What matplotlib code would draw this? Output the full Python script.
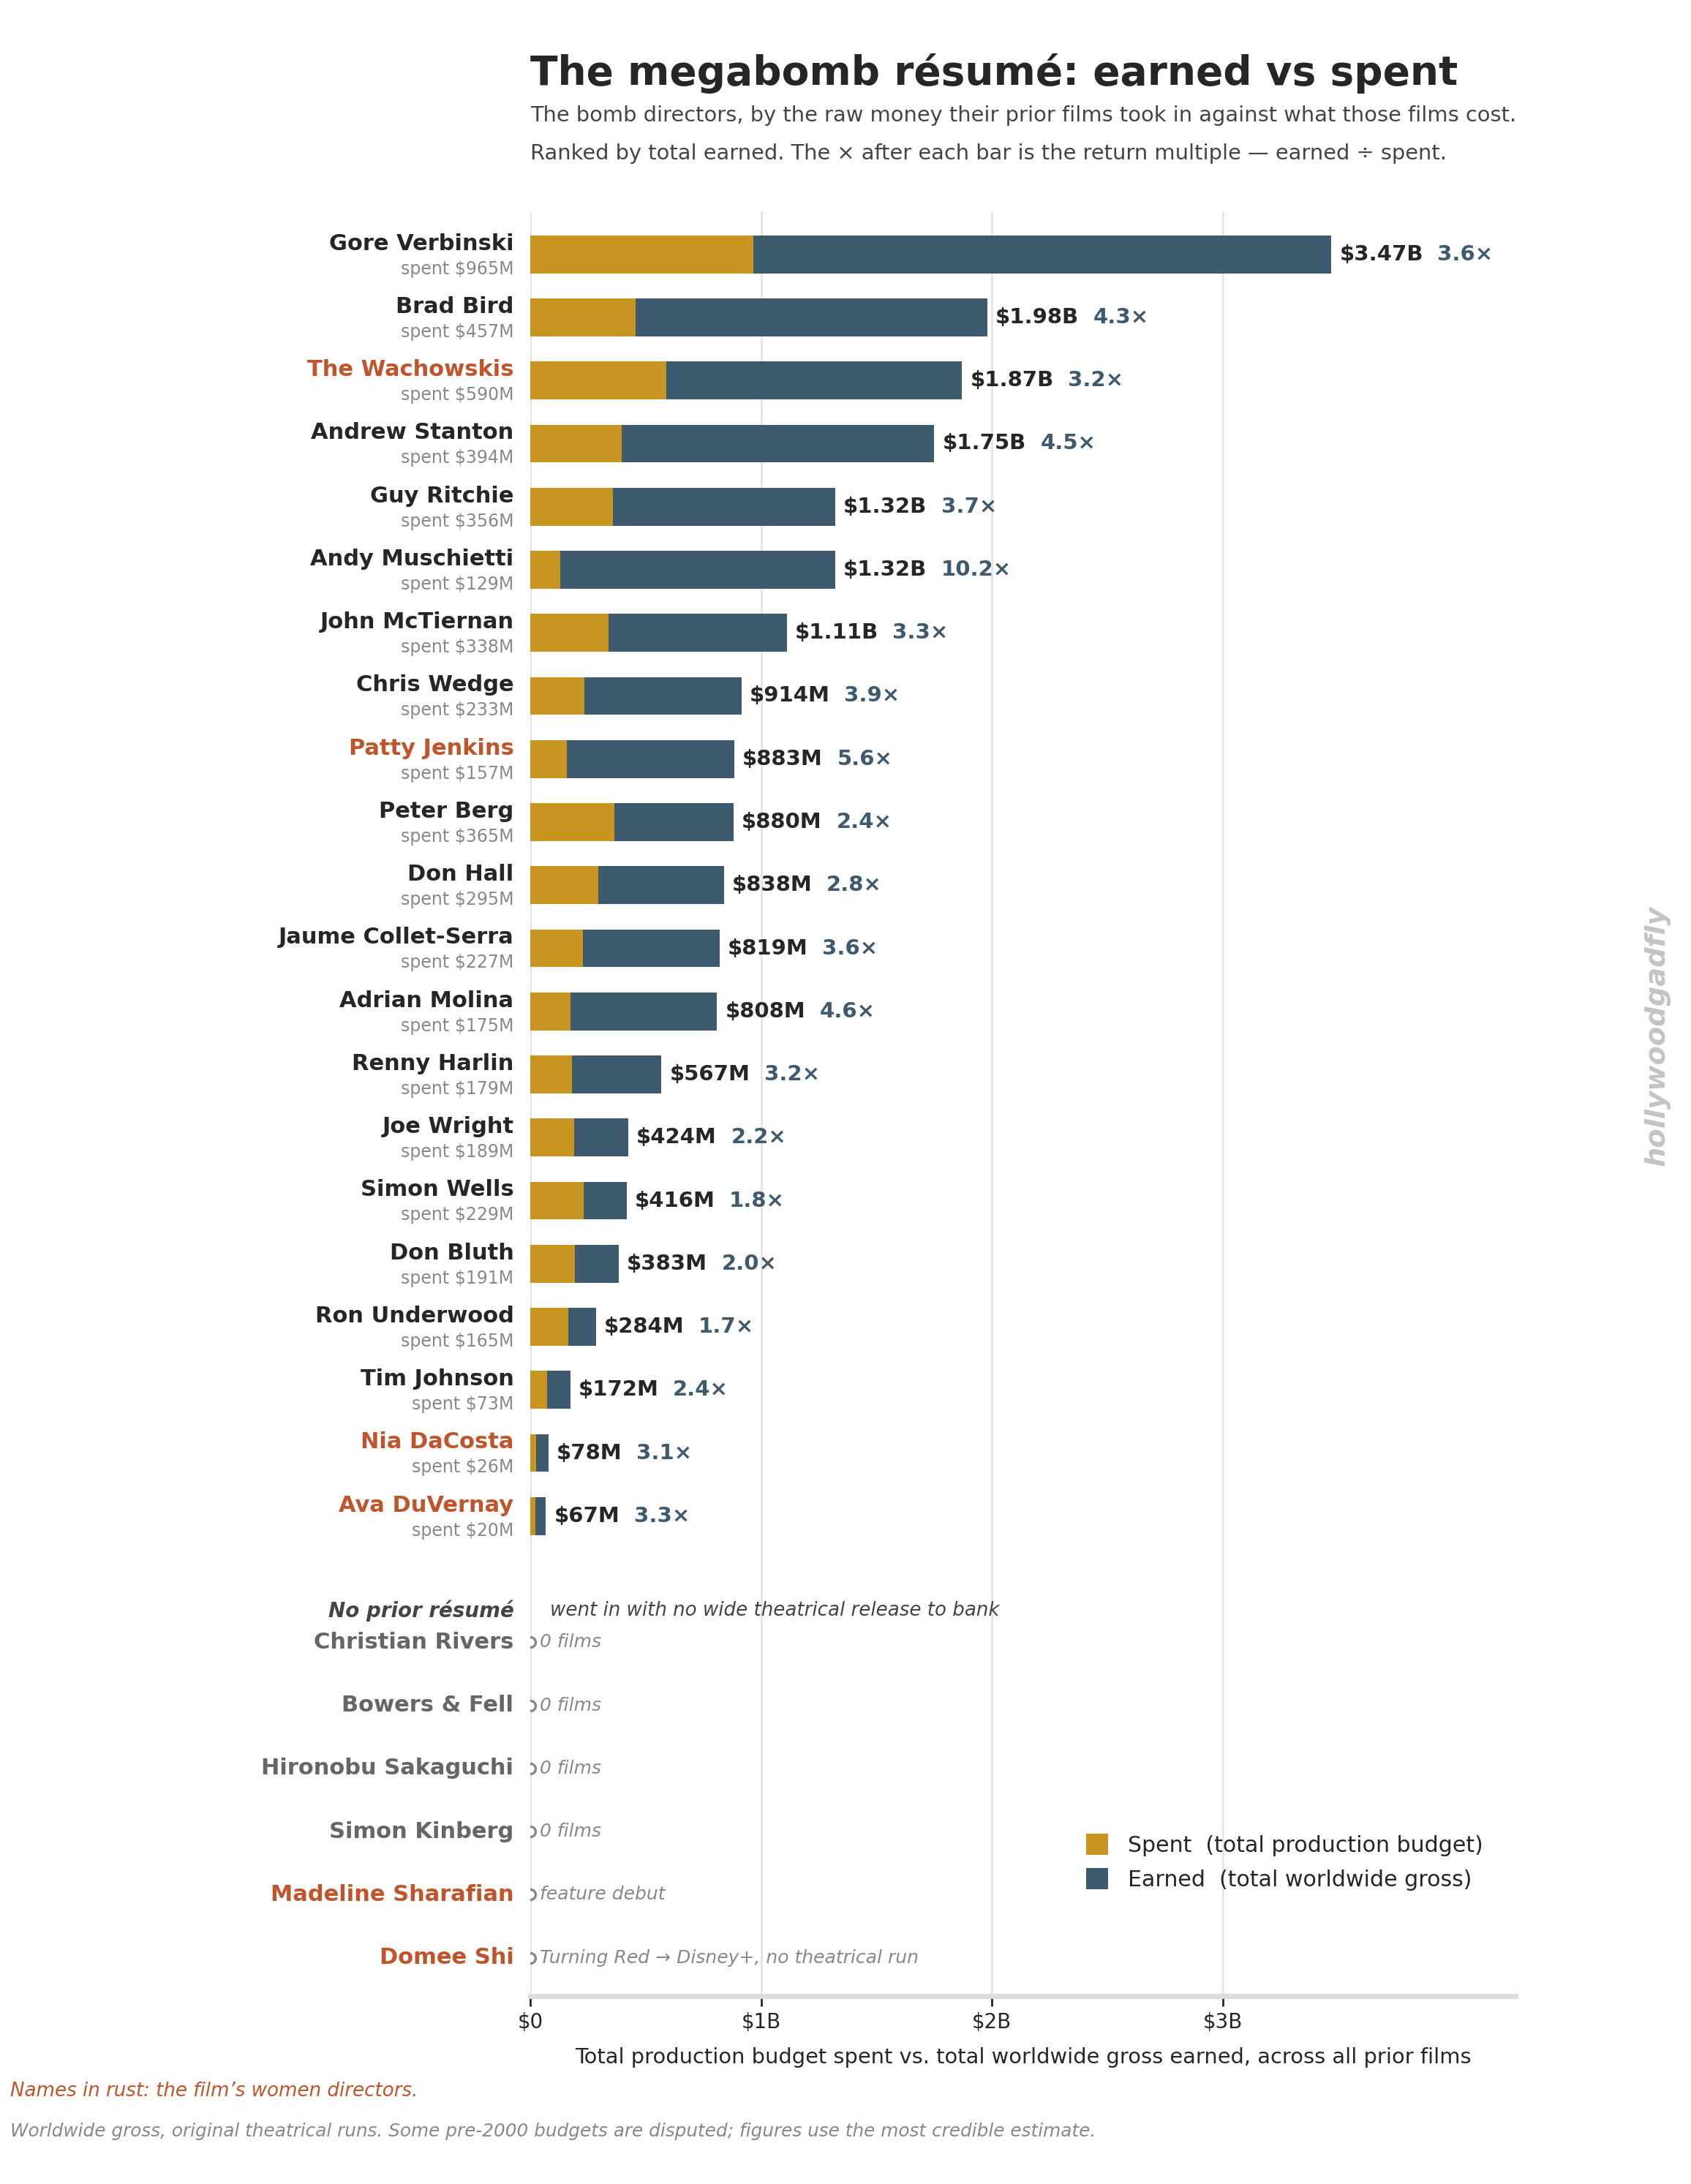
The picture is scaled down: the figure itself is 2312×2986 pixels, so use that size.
import matplotlib
matplotlib.use("Agg")
import matplotlib.pyplot as plt
from matplotlib.patches import Patch

# ---------------- data ----------------
directors = ["Gore Verbinski", "Brad Bird", "The Wachowskis", "Andrew Stanton", "Guy Ritchie",
             "Andy Muschietti", "John McTiernan", "Chris Wedge", "Patty Jenkins", "Peter Berg",
             "Don Hall", "Jaume Collet-Serra", "Adrian Molina", "Renny Harlin", "Joe Wright",
             "Simon Wells", "Don Bluth", "Ron Underwood", "Tim Johnson", "Nia DaCosta", "Ava DuVernay"]
earned_m = [3470, 1980, 1870, 1750, 1320, 1320, 1110, 914, 883, 880, 838, 819, 808, 567, 424,
            416, 383, 284, 172, 78, 67]
spent_m = [965, 457, 590, 394, 356, 129, 338, 233, 157, 365, 295, 227, 175, 179, 189, 229, 191,
           165, 73, 26, 20]
multiples = ["3.6×", "4.3×", "3.2×", "4.5×", "3.7×", "10.2×", "3.3×", "3.9×", "5.6×", "2.4×",
             "2.8×", "3.6×", "4.6×", "3.2×", "2.2×", "1.8×", "2.0×", "1.7×", "2.4×", "3.1×", "3.3×"]
women = {"The Wachowskis", "Patty Jenkins", "Nia DaCosta", "Ava DuVernay",
         "Madeline Sharafian", "Domee Shi"}

no_prior = ["Christian Rivers", "Bowers & Fell", "Hironobu Sakaguchi", "Simon Kinberg",
            "Madeline Sharafian", "Domee Shi"]
no_prior_notes = ["0 films", "0 films", "0 films", "0 films", "feature debut",
                  "Turning Red → Disney+, no theatrical run"]

xticks_b = [0, 1, 2, 3]
xtick_labels = ["$0", "$1B", "$2B", "$3B"]

# ---------------- style ----------------
GOLD = "#C89620"
SLATE = "#3D5A6E"
RUST = "#C0542A"
DARK = "#262626"
GRAY = "#888888"
NOPRIOR_GRAY = "#666666"

DPI = 200
fig = plt.figure(figsize=(11.56, 14.93), dpi=DPI)
fig.patch.set_facecolor("white")
ax = fig.add_axes([0.3137, 0.086, 0.5825, 0.8172])

n = len(directors)
ypos = list(range(n))
np_pos = [n + 1 + i for i in range(len(no_prior))]
header_y = n + 0.5

earned_b = [e / 1000 for e in earned_m]
spent_b = [s / 1000 for s in spent_m]

ax.barh(ypos, earned_b, height=0.6, color=SLATE, zorder=2)
ax.barh(ypos, spent_b, height=0.6, color=GOLD, zorder=3)

xmax = max(earned_b) * 1.23
ax.set_xlim(0, xmax)
ax.set_ylim(27.61, -0.68)

ax.set_xticks(xticks_b)
ax.set_xticklabels(xtick_labels, fontsize=10, color=DARK)
ax.set_yticks([])
ax.tick_params(axis="x", length=5, width=1, color=DARK, pad=3)
ax.grid(axis="x", color="#e2e2e2", lw=0.9, zorder=0)
ax.set_axisbelow(True)
for s in ["top", "right", "left"]:
    ax.spines[s].set_visible(False)
ax.spines["bottom"].set_color("#dddddd")
ax.spines["bottom"].set_linewidth(2.5)

ax.set_xlabel("Total production budget spent vs. total worldwide gross earned, across all prior films",
              fontsize=10.4, color=DARK, labelpad=7)

ytr = ax.get_yaxis_transform()
LX = -0.017

def fmt(v):
    return f"${v/1000:.2f}B" if v >= 1000 else f"${v:.0f}M"

fig.canvas.draw()
renderer = fig.canvas.get_renderer()

for i, name in enumerate(directors):
    y = ypos[i]
    col = RUST if name in women else DARK
    ax.text(LX, y - 0.17, name, transform=ytr, ha="right", va="center",
            fontsize=11, fontweight="bold", color=col)
    ax.text(LX, y + 0.23, f"spent ${spent_m[i]}M", transform=ytr, ha="right", va="center",
            fontsize=8.5, color=GRAY)
    t = ax.annotate(fmt(earned_m[i]), xy=(earned_b[i], y), xytext=(4, 0),
                    textcoords="offset points", ha="left", va="center",
                    fontsize=10.5, fontweight="bold", color=DARK)
    bb = t.get_window_extent(renderer)
    wpt = bb.width * 72 / DPI
    ax.annotate(multiples[i], xy=(earned_b[i], y), xytext=(4 + wpt + 7, 0),
                textcoords="offset points", ha="left", va="center",
                fontsize=10.5, fontweight="bold", color=SLATE)

# No prior résumé section
ax.text(LX, header_y, "No prior résumé", transform=ytr, ha="right", va="center",
        fontsize=10, fontweight="bold", fontstyle="italic", color="#444444")
ax.text(0.085, header_y, "went in with no wide theatrical release to bank",
        ha="left", va="center", fontsize=9.4, fontstyle="italic", color="#444444")

for i, name in enumerate(no_prior):
    y = np_pos[i]
    col = RUST if name in women else NOPRIOR_GRAY
    ax.text(LX, y, name, transform=ytr, ha="right", va="center",
            fontsize=11, fontweight="bold", color=col)
    ax.plot([0], [y], marker="o", markersize=5, markerfacecolor="white",
            markeredgecolor=GRAY, markeredgewidth=1.2, clip_on=True, zorder=4)
    ax.text(0.04, y, no_prior_notes[i], ha="left", va="center",
            fontsize=9, fontstyle="italic", color=GRAY)

# Legend
handles = [Patch(facecolor=GOLD, label="Spent  (total production budget)"),
           Patch(facecolor=SLATE, label="Earned  (total worldwide gross)")]
ax.legend(handles=handles, loc="lower right", bbox_to_anchor=(0.987, 0.048), frameon=False,
          fontsize=10.8, handlelength=1.0, handleheight=1.1, handletextpad=0.9,
          labelspacing=0.55, labelcolor=DARK)

# Titles
fig.text(0.3137, 0.9665, "The megabomb résumé: earned vs spent", ha="left", va="center",
         fontsize=19.8, fontweight="bold", color=DARK)
fig.text(0.3137, 0.9472,
         "The bomb directors, by the raw money their prior films took in against what those films cost.",
         ha="left", va="center", fontsize=10.4, color="#444444")
fig.text(0.3137, 0.9298,
         "Ranked by total earned. The × after each bar is the return multiple — earned ÷ spent.",
         ha="left", va="center", fontsize=10.4, color="#444444")

# Footnotes
fig.text(0.006, 0.0424, "Names in rust: the film’s women directors.", ha="left", va="center",
         fontsize=9.4, fontstyle="italic", color=RUST)
fig.text(0.006, 0.0240,
         "Worldwide gross, original theatrical runs. Some pre-2000 budgets are disputed; figures use the most credible estimate.",
         ha="left", va="center", fontsize=8.9, fontstyle="italic", color=GRAY)

# Watermark
fig.text(0.980, 0.526, "hollywoodgadfly", rotation=90, ha="center", va="center",
         fontsize=13.8, fontweight="bold", fontstyle="italic", color="#c4c4c4")

fig.savefig("out.png", dpi=DPI, facecolor="white")
